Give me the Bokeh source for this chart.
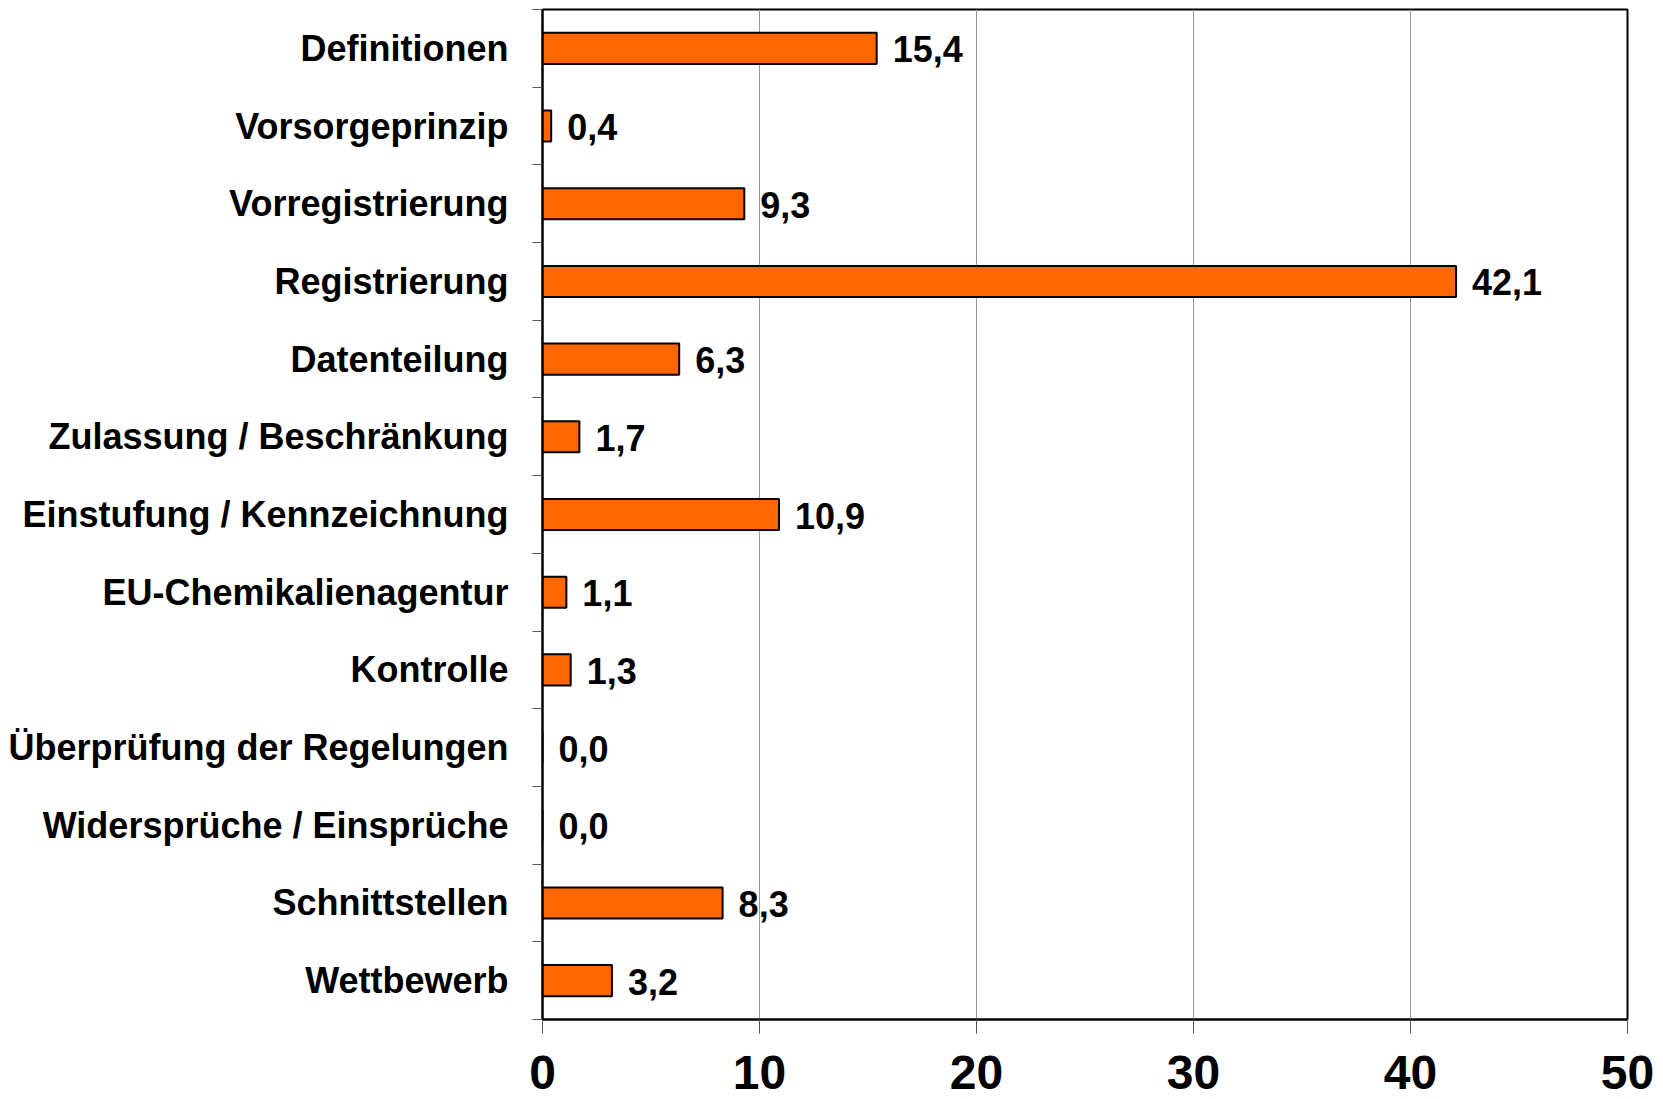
from bokeh.plotting import figure
from bokeh.models import Range1d, FixedTicker, ColumnDataSource, LabelSet
from bokeh.core.properties import value
from bokeh.embed import file_html
from bokeh.resources import INLINE

categories = [
    "Definitionen",
    "Vorsorgeprinzip",
    "Vorregistrierung",
    "Registrierung",
    "Datenteilung",
    "Zulassung / Beschränkung",
    "Einstufung / Kennzeichnung",
    "EU-Chemikalienagentur",
    "Kontrolle",
    "Überprüfung der Regelungen",
    "Widersprüche / Einsprüche",
    "Schnittstellen",
    "Wettbewerb",
]
values = [15.4, 0.4, 9.3, 42.1, 6.3, 1.7, 10.9, 1.1, 1.3, 0.0, 0.0, 8.3, 3.2]
x_ticks = [0, 10, 20, 30, 40, 50]

n = len(categories)
ypos = [n - i - 0.5 for i in range(n)]
labels = [f"{v:.1f}".replace(".", ",") for v in values]

src = ColumnDataSource(dict(y=ypos, v=values, lab=labels, cat=categories))

FONT = "Liberation Sans"

p = figure(
    width=1663, height=1109,
    x_range=Range1d(0, 50), y_range=Range1d(0, n),
    output_backend="svg", toolbar_location=None,
    min_border_left=542, min_border_top=9, min_border_right=36, min_border_bottom=90,
    background_fill_color="white", border_fill_color="white",
)

p.hbar(y="y", left=0, right="v", height=0.4, source=src,
       fill_color="#FF6600", line_color="black", line_width=2)

p.add_layout(LabelSet(x="v", y="y", text="lab", source=src, x_offset=16, y_offset=-1,
                      text_font=value(FONT), text_font_size=value("36px"),
                      text_font_style=value("bold"),
                      text_baseline=value("middle"), text_align=value("left"),
                      text_color=value("black")))

# y axis: labels at centers, ticks at boundaries
p.yaxis.ticker = FixedTicker(ticks=ypos, minor_ticks=list(range(n + 1)))
p.yaxis.major_label_overrides = {y: c for y, c in zip(ypos, categories)}
p.yaxis.major_tick_out = 0
p.yaxis.major_tick_in = 0
p.yaxis.minor_tick_out = 10
p.yaxis.minor_tick_in = 0
p.yaxis.minor_tick_line_color = "#555555"
p.yaxis.axis_line_color = "black"
p.yaxis.axis_line_width = 2
p.yaxis.major_label_standoff = 24
p.yaxis.major_label_text_font = FONT
p.yaxis.major_label_text_font_size = "36px"
p.yaxis.major_label_text_font_style = "bold"
p.yaxis.major_label_text_color = "black"

p.xaxis.ticker = FixedTicker(ticks=x_ticks, minor_ticks=[])
p.xaxis.major_tick_out = 14
p.xaxis.major_tick_in = 0
p.xaxis.major_tick_line_color = "#555555"
p.xaxis.axis_line_color = "black"
p.xaxis.axis_line_width = 2
p.xaxis.major_label_standoff = 22
p.xaxis.major_label_text_font = FONT
p.xaxis.major_label_text_font_size = "48px"
p.xaxis.major_label_text_font_style = "bold"
p.xaxis.major_label_text_color = "black"

p.ygrid.grid_line_color = None
p.xgrid.ticker = FixedTicker(ticks=x_ticks)
p.xgrid.grid_line_color = "#999999"
p.xgrid.grid_line_width = 1

p.outline_line_color = "black"
p.outline_line_width = 2

open("out.html", "w").write(file_html(p, INLINE))
